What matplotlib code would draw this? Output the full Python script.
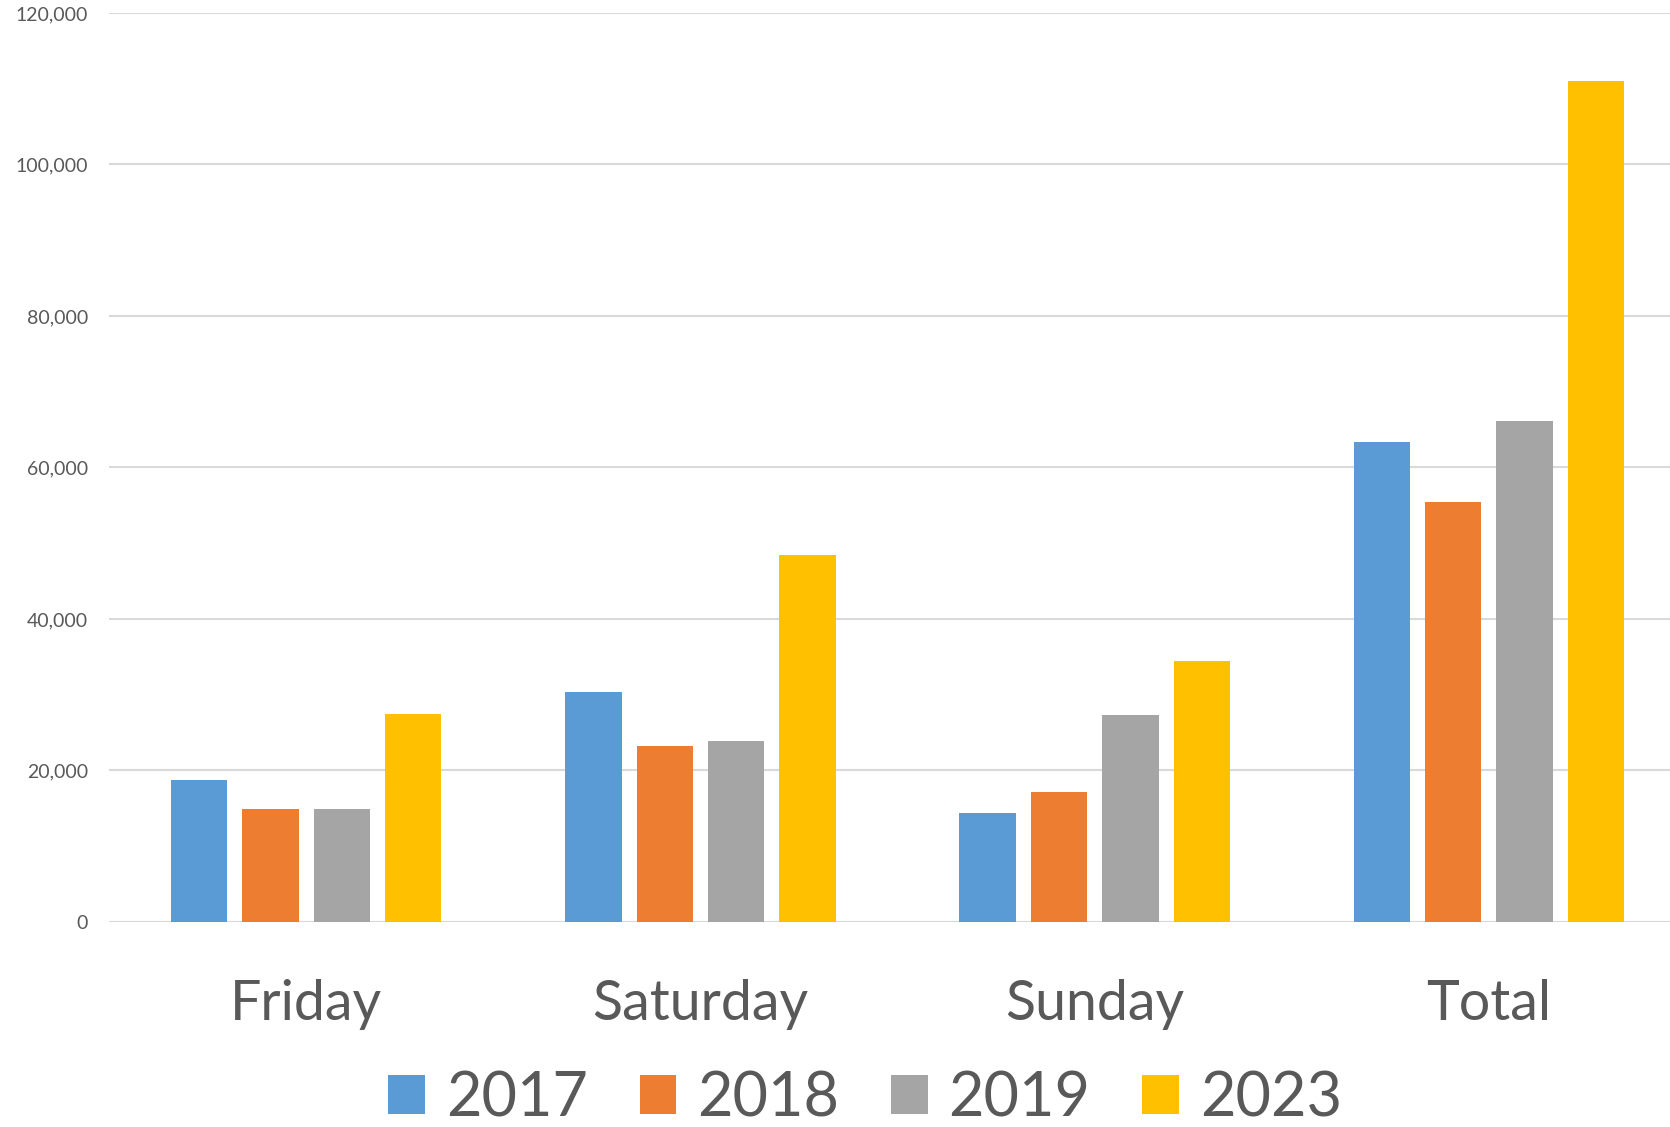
import matplotlib.pyplot as plt
import numpy as np

days = ["Friday", "Saturday", "Sunday", "Total"]
years = ["2017", "2018", "2019", "2023"]

visitors_2017 = [18700, 30300, 14400, 63400]
visitors_2018 = [14900, 23200, 17100, 55400]
visitors_2019 = [14900, 23900, 27300, 66200]
visitors_2023 = [27400, 48500, 34500, 111000]

y_ticks = [0, 20000, 40000, 60000, 80000, 100000, 120000]

colors = ["#5B9BD5", "#ED7D31", "#A5A5A5", "#FFC000"]
text_gray = "#595959"

plt.rcParams['font.family'] = ['Lato', 'DejaVu Sans']

fig = plt.figure(figsize=(16.7, 11.27), dpi=100)
# chart is cut off a bit on the right, like the original screenshot
ax = fig.add_axes([0.0653, 0.1819, 0.9443, 0.8066])

x = np.arange(len(days))
bar_w = 0.143
step = 0.181
series = [visitors_2017, visitors_2018, visitors_2019, visitors_2023]
for i, (year, vals) in enumerate(zip(years, series)):
    ax.bar(x + (i - 1.5) * step, vals, width=bar_w, color=colors[i], label=year, zorder=3)

ax.set_xlim(-0.5, len(days) - 0.5)
ax.set_ylim(0, 120000)
ax.set_yticks(y_ticks)
ax.set_yticklabels([f"{v:,}" for v in y_ticks])
ax.set_xticks(x)
ax.set_xticklabels(days)

ax.grid(axis='y', color='#D9D9D9', linewidth=1.5, zorder=0)
ax.grid(axis='x', visible=False)
for s in ax.spines.values():
    s.set_visible(False)

ax.tick_params(axis='y', length=0, pad=15, labelsize=14, labelcolor=text_gray)
ax.tick_params(axis='x', length=0, pad=41, labelsize=40, labelcolor=text_gray)

leg = fig.legend(loc='center', bbox_to_anchor=(0.518, 0.025), ncol=4, frameon=False,
                 fontsize=44, handlelength=0.6, handleheight=0.6, handletextpad=0.34,
                 columnspacing=0.85, borderaxespad=0)
for t in leg.get_texts():
    t.set_color(text_gray)

plt.savefig("out.png", dpi=100)
